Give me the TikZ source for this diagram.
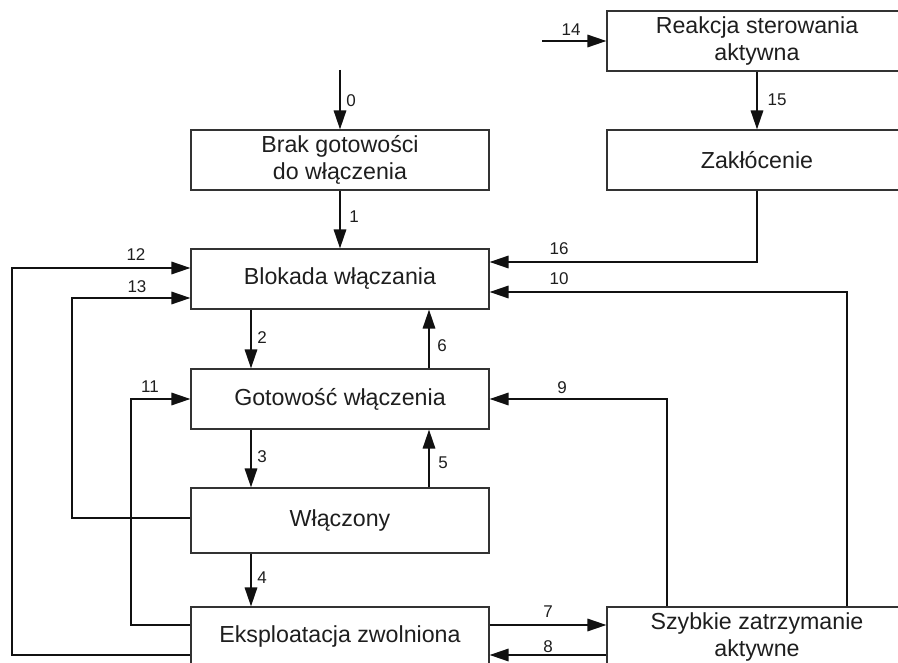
\documentclass[tikz,border=0pt]{standalone}
\usepackage{fontspec}
\setmainfont{Liberation Sans}
\usetikzlibrary{arrows.meta}
\definecolor{boxgray}{HTML}{333333}
\definecolor{ink}{HTML}{111111}
\definecolor{txt}{HTML}{1E1E1E}
\tikzset{
  state/.style={draw=boxgray, line width=1.2pt, minimum width=298pt, minimum height=60pt,
    inner sep=0pt, align=center, font=\fontsize{23.2}{26.5}\selectfont, text=txt},
  flow/.style={line width=1.7pt, draw=ink, -{Triangle[length=19pt,width=12.5pt]}},
  num/.style={font=\fontsize{17}{20}\selectfont, text=txt, inner sep=0pt},
}
\begin{document}
\begin{tikzpicture}[x=1pt,y=-1pt]
\useasboundingbox (0,0) rectangle (898,663);
\clip (0,0) rectangle (898,663);

% states
\node[state, minimum width=300pt] (rsa) at (757,41) {Reakcja sterowania\\aktywna};
\node[state, minimum width=300pt] (zak) at (757,160) {Zakłócenie};
\node[state] (brak) at (340,160) {Brak gotowości\\do włączenia};
\node[state] (blok) at (340,279) {Blokada włączania};
\node[state] (got)  at (340,399) {Gotowość włączenia};
\node[state, minimum height=65pt] (wl) at (340,520.5) {Włączony};
\node[state] (eks)  at (340,637) {Eksploatacja zwolniona};
\node[state, minimum width=300pt] (szyb) at (757,637) {Szybkie zatrzymanie\\aktywne};

% free ends and vertical lanes
\coordinate (in0) at (340,70);
\coordinate (in14) at (542,41);
\coordinate (cL) at (251,0);
\coordinate (cR) at (429,0);

% transitions
\draw[flow] (in0) -- (brak.north);
\draw[flow] (brak.south) -- (blok.north);
\draw[flow] (blok.south -| cL) -- (got.north -| cL);
\draw[flow] (got.north -| cR) -- (blok.south -| cR);
\draw[flow] (got.south -| cL) -- (wl.north -| cL);
\draw[flow] (wl.north -| cR) -- (got.south -| cR);
\draw[flow] (wl.south -| cL) -- (eks.north -| cL);
\draw[flow] (eks.east |- 0,625) -- (szyb.west |- 0,625);
\draw[flow] (szyb.west |- 0,655) -- (eks.east |- 0,655);
\draw[flow] (szyb.north -| 667,0) |- (got.east);
\draw[flow] (szyb.north -| 847,0) |- (blok.east |- 0,292);
\draw[flow] (eks.west |- 0,625) -| (131,399) -- (got.west);
\draw[flow] (eks.west |- 0,655) -| (12,268) -- (blok.west |- 0,268);
\draw[flow] (wl.west |- 0,518) -| (72,298) -- (blok.west |- 0,298);
\draw[flow] (in14) -- (rsa.west);
\draw[flow] (rsa.south) -- (zak.north);
\draw[flow] (zak.south) |- (blok.east |- 0,262);

% transition numbers
\node[num] (n0)  at (351,101) {0};
\node[num] (n1)  at (354,217) {1};
\node[num] (n2)  at (262,338) {2};
\node[num] (n6)  at (442,346) {6};
\node[num] (n3)  at (262,457) {3};
\node[num] (n5)  at (443,463) {5};
\node[num] (n4)  at (262,578) {4};
\node[num] (n12) at (136,255) {12};
\node[num] (n13) at (137,287) {13};
\node[num] (n11) at (150,387) {11};
\node[num] (n16) at (559,249) {16};
\node[num] (n10) at (559,279) {10};
\node[num] (n9)  at (562,388) {9};
\node[num] (n7)  at (548,612) {7};
\node[num] (n8)  at (548,647) {8};
\node[num] (n14) at (571,30) {14};
\node[num] (n15) at (777,100) {15};
\end{tikzpicture}
\end{document}
